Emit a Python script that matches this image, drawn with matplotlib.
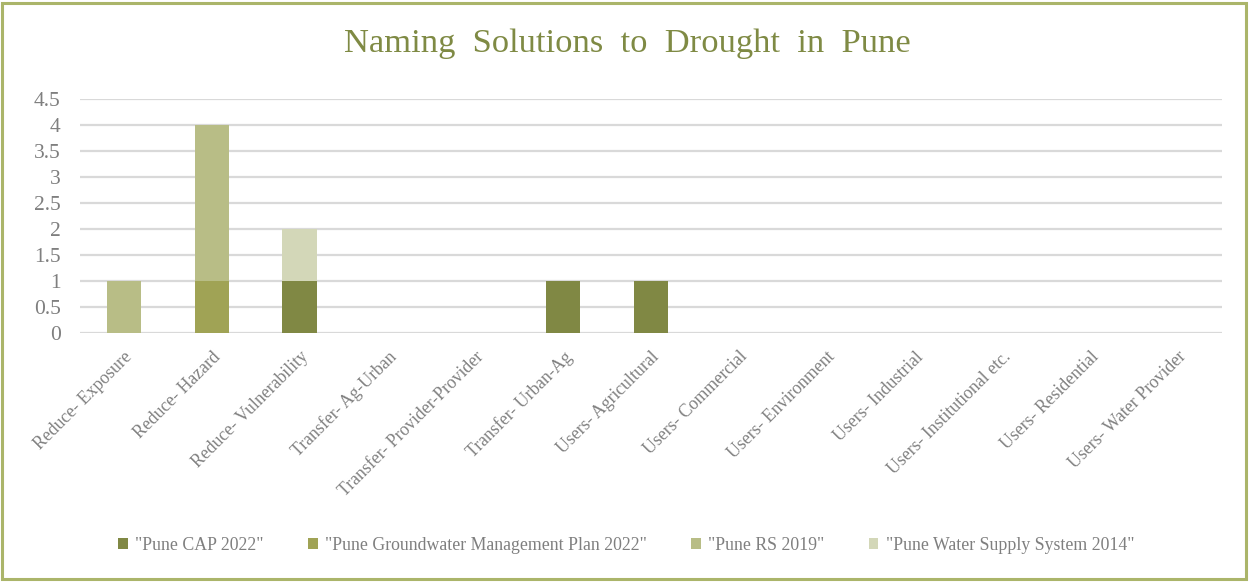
import numpy as np
import matplotlib.pyplot as plt
from matplotlib.patches import Rectangle

# Solution categories and counts per source document
categorias = ['Reduce- Exposure', 'Reduce- Hazard', 'Reduce- Vulnerability',
              'Transfer- Ag-Urban', 'Transfer- Provider-Provider', 'Transfer- Urban-Ag',
              'Users- Agricultural', 'Users- Commercial', 'Users- Environment',
              'Users- Industrial', 'Users- Institutional etc.', 'Users- Residential',
              'Users- Water Provider']
fontes = ['"Pune CAP 2022"', '"Pune Groundwater Management Plan 2022"',
          '"Pune RS 2019"', '"Pune Water Supply System 2014"']
cap_2022 = [0, 0, 1, 0, 0, 1, 1, 0, 0, 0, 0, 0, 0]
groundwater_2022 = [0, 1, 0, 0, 0, 0, 0, 0, 0, 0, 0, 0, 0]
rs_2019 = [1, 3, 0, 0, 0, 0, 0, 0, 0, 0, 0, 0, 0]
water_supply_2014 = [0, 0, 1, 0, 0, 0, 0, 0, 0, 0, 0, 0, 0]
cores = ['#808844', '#A0A355', '#B8BD86', '#D3D7B8']

plt.rcParams['font.family'] = ['Liberation Serif', 'DejaVu Serif']

fig = plt.figure(figsize=(12.49, 5.82), dpi=100)
W, H = 1249, 582
ax = fig.add_axes([80 / W, 1 - 333 / H, 1142 / W, 234 / H])

x = np.arange(len(categorias))
base = np.zeros(len(categorias))
for serie, rotulo, cor in zip([cap_2022, groundwater_2022, rs_2019, water_supply_2014], fontes, cores):
    ax.bar(x, serie, bottom=base, width=0.39, color=cor, label=rotulo, zorder=3)
    base += np.array(serie)

ax.set_xlim(-0.5, len(categorias) - 0.5)
ax.set_ylim(0, 4.5)
ax.set_yticks(np.arange(0, 4.51, 0.5))
ax.set_yticklabels(['0', '0.5', '1', '1.5', '2', '2.5', '3', '3.5', '4', '4.5'])
ax.grid(axis='y', color='#D9D9D9', linewidth=1.6, zorder=0)
ax.set_axisbelow(True)
for lado in ['top', 'right', 'left', 'bottom']:
    ax.spines[lado].set_visible(False)
ax.tick_params(axis='both', length=0, colors='#7F7F7F')
ax.tick_params(axis='y', pad=14, labelsize=15.5)
ax.set_xticks(x)
ax.set_xticklabels(categorias, rotation=45, ha='right', rotation_mode='anchor',
                   fontsize=12.8, color='#808080')
ax.tick_params(axis='x', pad=11)

fig.text(627 / W, 1 - 44 / H, 'Naming  Solutions  to  Drought  in  Pune', ha='center', va='center',
         fontsize=24.8, color='#7F8A44')

fig.legend(loc='center', bbox_to_anchor=(626 / W, 1 - 545 / H), ncol=4, frameon=False,
           fontsize=12.8, handlelength=0.55, handleheight=0.55, handletextpad=0.4,
           columnspacing=2.5, labelcolor='#7F7F7F')

# moldura em volta da figura
fig.patches.append(Rectangle((2 / W, 3 / H), 1244 / W, 576 / H, transform=fig.transFigure,
                             fill=False, edgecolor='#ABB56A', linewidth=2.2))

fig.savefig('out.png', dpi=100)
